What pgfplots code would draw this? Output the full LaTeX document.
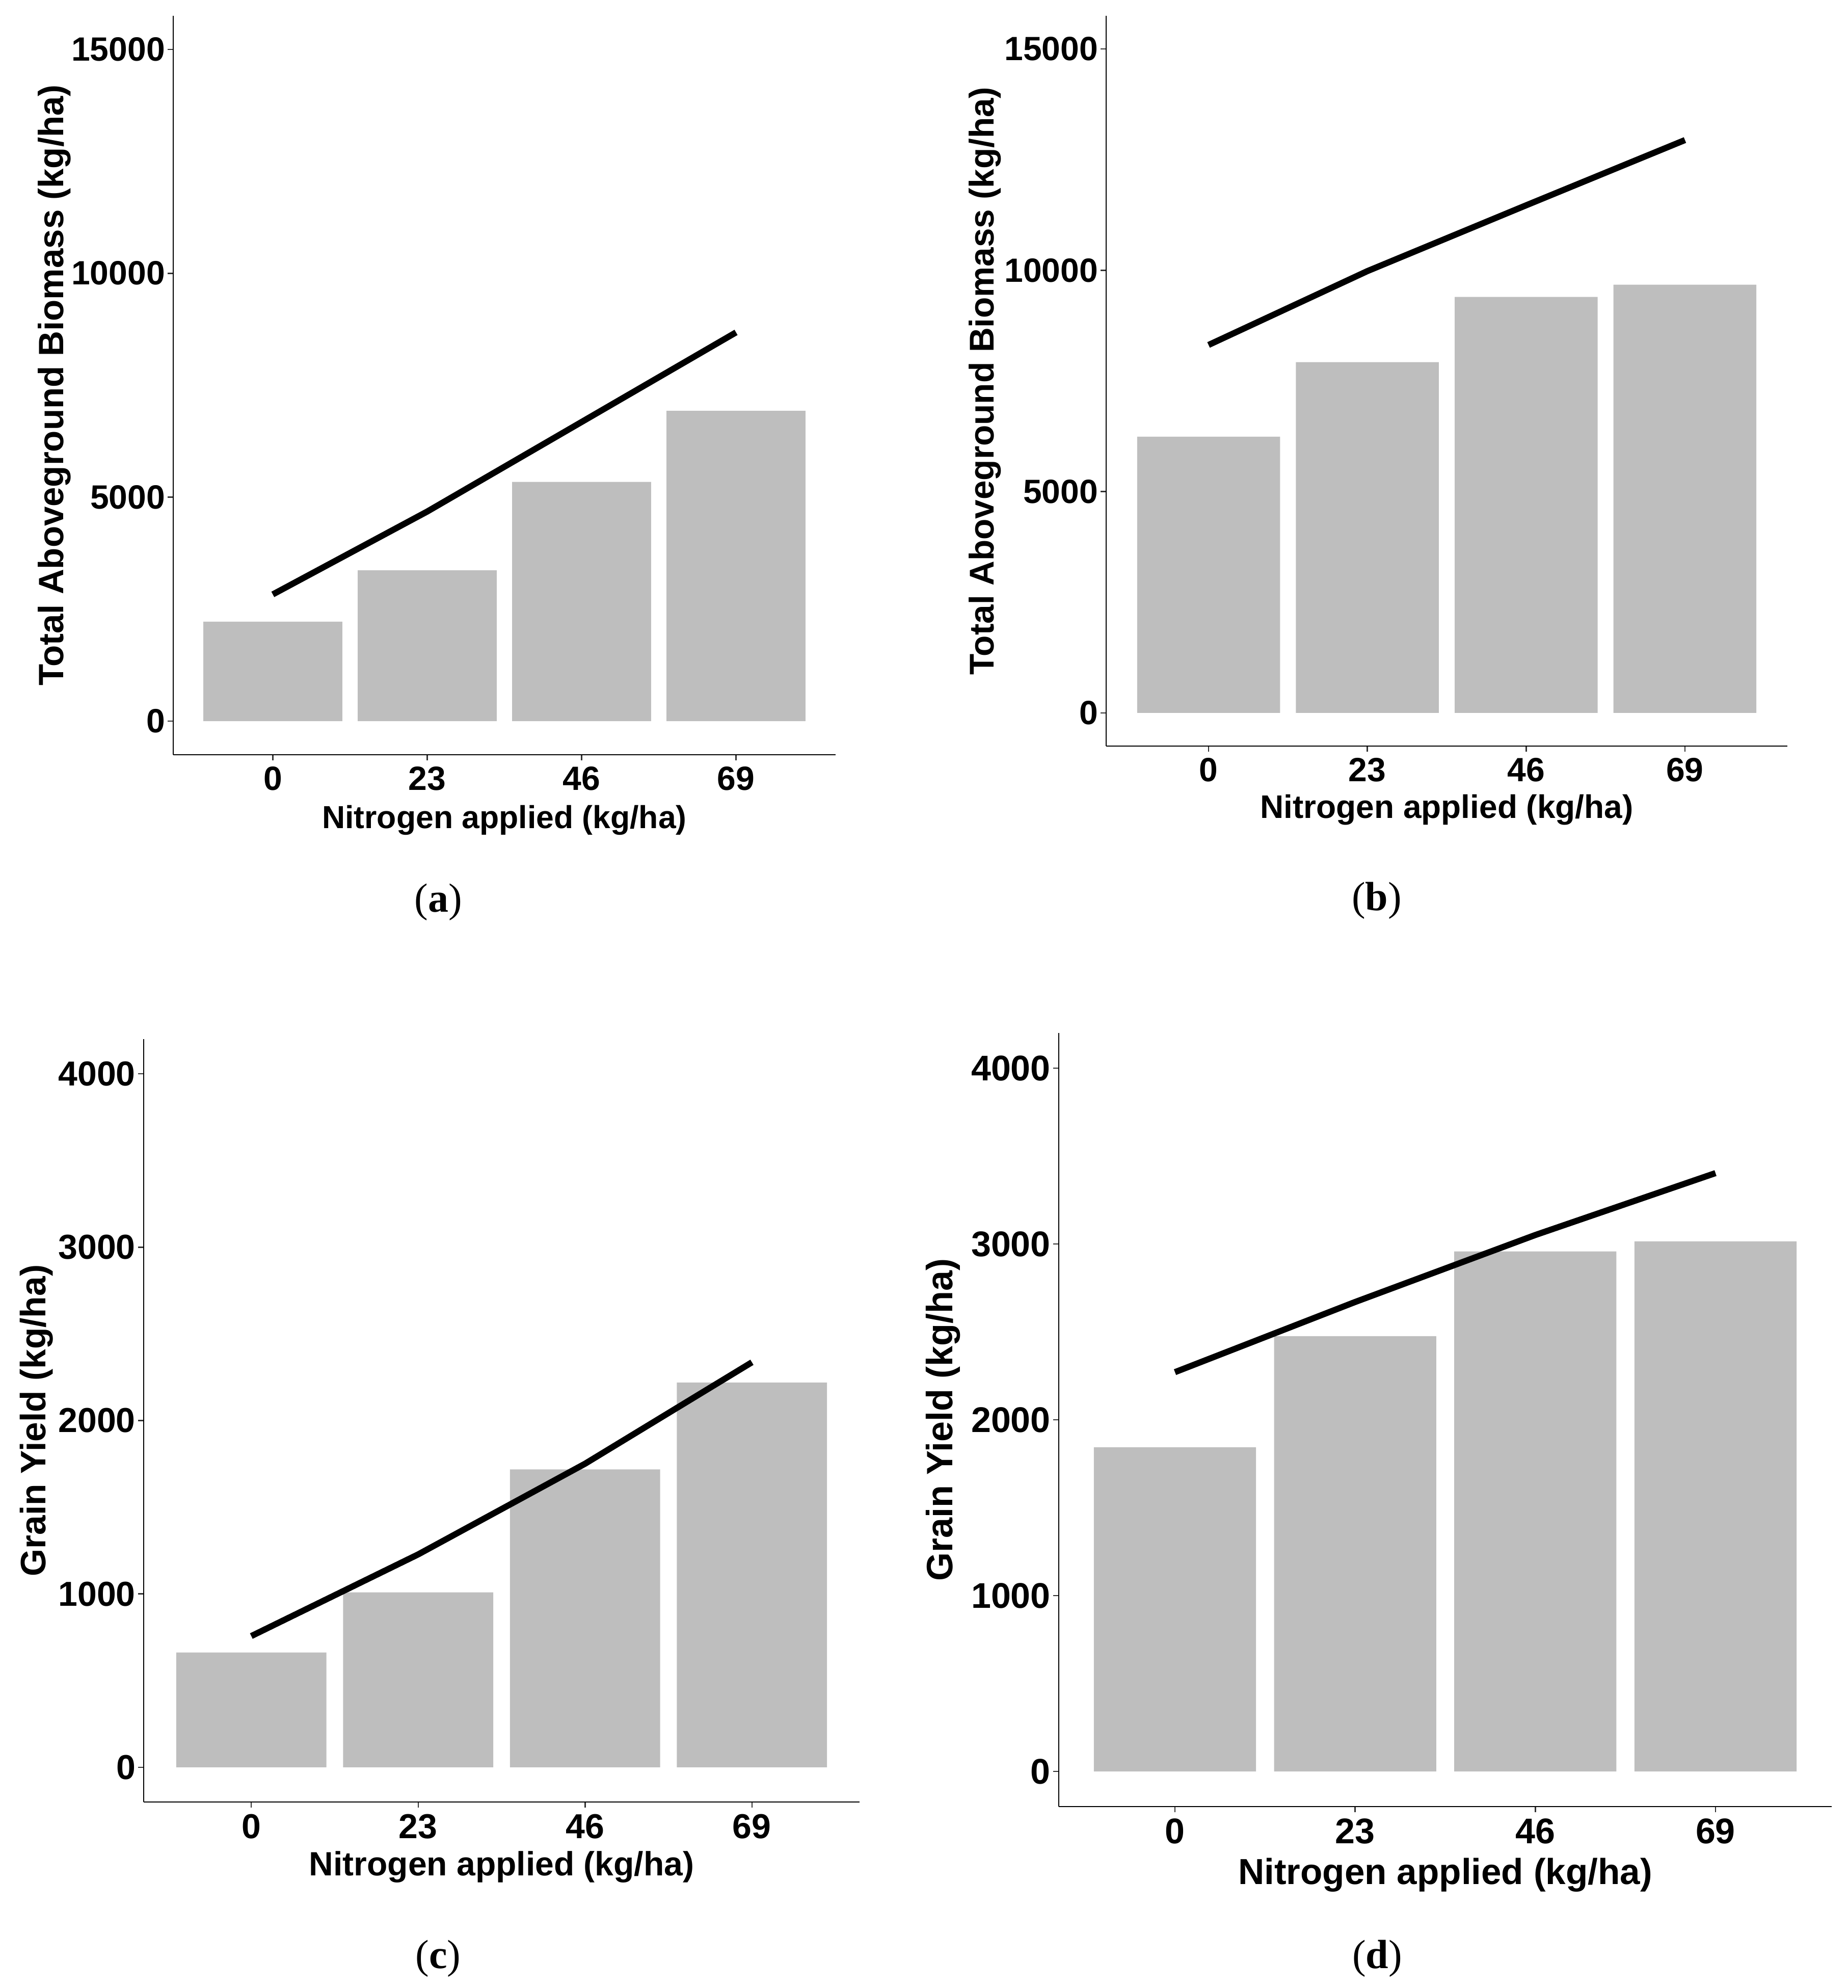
\documentclass[border=0pt]{standalone}
\usepackage{fontspec}
\setmainfont{Liberation Sans}
\newfontfamily\capfont{Liberation Serif}
\usepackage{pgfplots}
\pgfplotsset{compat=1.18}
\definecolor{bargray}{HTML}{BEBEBE}

\pgfplotsset{
  panel/.style={
    scale only axis,
    anchor=south west,
    axis x line*=bottom,
    axis y line*=left,
    xtick pos=left, ytick pos=left,
    tick align=outside,
    major tick length=2.2pt,
    tick style={line width=0.5pt, black!80},
    axis line style={line width=0.5pt, black},
    xmin=-0.645, xmax=3.645,
    xtick={0,1,2,3},
    xticklabels={0,23,46,69},
    scaled y ticks=false,
    enlargelimits=false,
    /pgf/number format/assume math mode=true,
    /pgf/number format/set thousands separator={},
    yticklabel style={xshift=2.5pt},
    xticklabel style={yshift=1pt},
    clip=false,
  },
  % #1 tick size, #2 xlabel size, #3 ylabel size, #4 xlabel drop, #5 ylabel offset
  fs/.style n args={5}{
    tick label style={font=\bfseries\fontsize{#1}{#1}\selectfont},
    xlabel style={font=\bfseries\fontsize{#2}{#2}\selectfont,
      at={([yshift=-#4]axis description cs:0.5,0)}, anchor=center, inner sep=0pt},
    ylabel style={font=\bfseries\fontsize{#3}{#3}\selectfont,
      at={([xshift=-#5]axis description cs:0,0.5)}, anchor=center, inner sep=0pt},
  },
  bars/.style={ybar, bar width=0.9, bar shift=0pt, fill=bargray, draw=none},
  trend/.style={black, line width=2.4pt},
}

\begin{document}
\begin{tikzpicture}
\useasboundingbox (0,0) rectangle (725.4pt,780.2pt);

% (a) biomass, site 1
\begin{axis}[panel, fs={13.2}{12.5}{13.8}{25.6pt}{46.7pt},
    at={(68pt,484pt)}, width=260pt, height=290pt,
    ymin=-750, ymax=15750, ytick={0,5000,10000,15000},
    xlabel={Nitrogen applied (kg/ha)},
    ylabel={Total Aboveground Biomass (kg/ha)}]
\addplot[bars] coordinates {(0,2222) (1,3367) (2,5341) (3,6928)};
\addplot[trend] coordinates {(0,2830) (1,4680) (2,6680) (3,8680)};
\end{axis}

% (b) biomass, site 2
\begin{axis}[panel, fs={13.2}{12.8}{13.5}{25.1pt}{47.5pt},
    at={(434.2pt,487.4pt)}, width=267.4pt, height=286.6pt,
    ymin=-750, ymax=15750, ytick={0,5000,10000,15000},
    xlabel={Nitrogen applied (kg/ha)},
    ylabel={Total Aboveground Biomass (kg/ha)}]
\addplot[bars] coordinates {(0,6241) (1,7923) (2,9397) (3,9675)};
\addplot[trend] coordinates {(0,8313) (1,9981) (2,11468) (3,12942)};
\end{axis}

% (c) grain yield, site 1
\begin{axis}[panel, fs={13.6}{13.2}{13.9}{25.6pt}{42pt},
    at={(56.4pt,73pt)}, width=281pt, height=299.4pt,
    ymin=-200, ymax=4200, ytick={0,1000,2000,3000,4000},
    xlabel={Nitrogen applied (kg/ha)},
    ylabel={Grain Yield (kg/ha)}]
\addplot[bars] coordinates {(0,662) (1,1009) (2,1718) (3,2219)};
\addplot[trend] coordinates {(0,757) (1,1228) (2,1751) (3,2336)};
\end{axis}

% (d) grain yield, site 2
\begin{axis}[panel, fs={14}{14.2}{14.4}{26.8pt}{45.3pt},
    at={(415.6pt,71.2pt)}, width=303.4pt, height=303.6pt,
    ymin=-200, ymax=4200, ytick={0,1000,2000,3000,4000},
    xlabel={Nitrogen applied (kg/ha)},
    ylabel={Grain Yield (kg/ha)}]
\addplot[bars] coordinates {(0,1844) (1,2476) (2,2958) (3,3015)};
\addplot[trend] coordinates {(0,2271) (1,2670) (2,3051) (3,3403)};
\end{axis}

\begin{scope}[every node/.style={inner sep=0pt, font=\capfont\fontsize{16}{16}\selectfont}]
\node at (172pt,426.2pt) {(\textbf{a})};
\node at (540.4pt,426.8pt) {(\textbf{b})};
\node at (172pt,11.6pt) {(\textbf{c})};
\node at (540.6pt,11.6pt) {(\textbf{d})};
\end{scope}
\end{tikzpicture}
\end{document}
